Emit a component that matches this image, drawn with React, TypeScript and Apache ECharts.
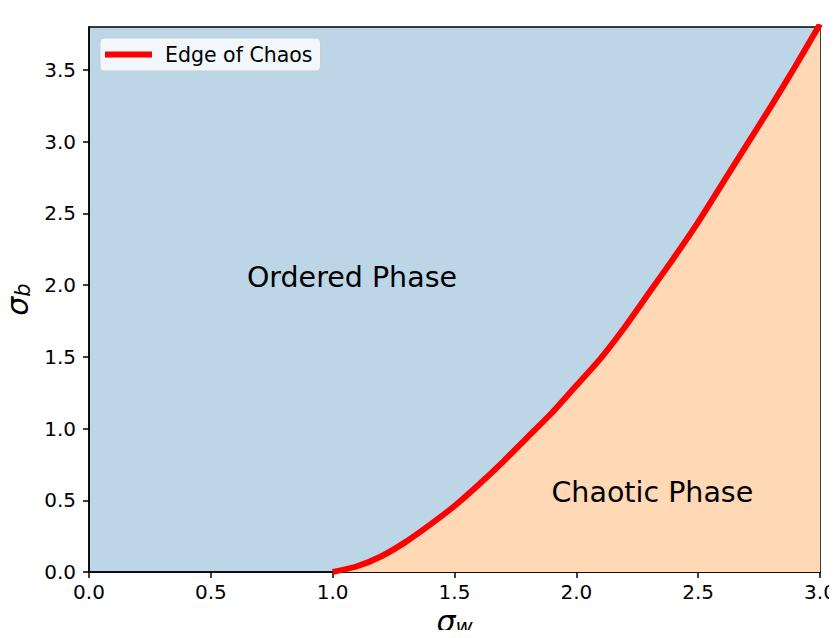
import React, { useEffect, useRef } from "react";
import * as echarts from "echarts";

const edgeX = [1.0, 1.1, 1.2, 1.3, 1.4, 1.5, 1.6, 1.7, 1.8, 1.9, 2.0, 2.1, 2.2, 2.3, 2.4, 2.5, 2.6, 2.7, 2.8, 2.9, 3.0];
const edgeY = [0, 0.04, 0.11, 0.21, 0.33, 0.46, 0.61, 0.77, 0.94, 1.11, 1.3, 1.49, 1.71, 1.95, 2.19, 2.44, 2.71, 2.98, 3.25, 3.53, 3.82];
const yTicks = [0, 0.5, 1.0, 1.5, 2.0, 2.5, 3.0, 3.5];
const phaseLabels = [
  { name: "Ordered Phase", x: 0.65, y: 2.0 },
  { name: "Chaotic Phase", x: 1.9, y: 0.5 },
];
const legendName = "Edge of Chaos";

const FONT = "DejaVu Sans";

export default function App() {
  const ref = useRef<HTMLDivElement>(null);
  useEffect(() => {
    if (!ref.current) return;
    const chart = echarts.init(ref.current, null, { renderer: "svg" });
    const pts = edgeX.map((x, i) => [x, edgeY[i]]);
    const axisCommon = {
      axisLine: { show: true, lineStyle: { color: "#000", width: 1.5 } },
      axisTick: { show: true, length: 6, lineStyle: { color: "#000", width: 1.5 } },
      splitLine: { show: false },
    };
    chart.setOption({
      animation: false,
      textStyle: { fontFamily: FONT },
      grid: {
        left: 89,
        right: 17,
        top: 27,
        bottom: 66,
        outerBoundsMode: "none",
        containLabel: false,
        show: true,
        backgroundColor: "#BCD6E8",
        borderColor: "#000",
        borderWidth: 1.5,
      },
      legend: {
        data: [{ name: legendName, icon: "rect", itemStyle: { color: "#ff0000" } }],
        left: 100,
        top: 38,
        itemWidth: 47,
        itemHeight: 6,
        padding: [6, 8, 6, 5],
        backgroundColor: "rgba(255,255,255,0.8)",
        borderColor: "#cccccc",
        borderWidth: 1,
        borderRadius: 4,
        textStyle: { fontFamily: FONT, fontSize: 20.5, color: "#000", padding: [0, 0, 0, 8] },
      },
      xAxis: {
        type: "value",
        min: 0,
        max: 3,
        interval: 0.5,
        ...axisCommon,
        axisLabel: {
          color: "#000",
          fontSize: 20,
          fontFamily: FONT,
          margin: 10,
          formatter: (v: number) => v.toFixed(1),
        },
        name: "{s|σ}{sub|w}",
        nameLocation: "middle",
        nameGap: 34,
        nameTextStyle: {
          rich: {
            s: { fontFamily: FONT, fontStyle: "italic", fontSize: 30, color: "#000" },
            sub: { fontFamily: FONT, fontStyle: "italic", fontSize: 21, color: "#000", padding: [10, 0, 0, 0] },
          },
        },
      },
      yAxis: {
        type: "value",
        min: 0,
        max: 3.8,
        interval: 0.5,
        ...axisCommon,
        axisTick: { ...axisCommon.axisTick, customValues: yTicks },
        axisLabel: {
          color: "#000",
          fontSize: 20,
          fontFamily: FONT,
          margin: 13,
          customValues: yTicks,
          formatter: (v: number) => v.toFixed(1),
        },
        name: "{s|σ}{sub|b}",
        nameLocation: "middle",
        nameGap: 56,
        nameRotate: 90,
        nameTextStyle: {
          rich: {
            s: { fontFamily: FONT, fontStyle: "italic", fontSize: 30, color: "#000" },
            sub: { fontFamily: FONT, fontStyle: "italic", fontSize: 21, color: "#000", padding: [10, 0, 0, 0] },
          },
        },
      },
      series: [
        {
          name: "chaotic",
          type: "line",
          data: pts,
          symbol: "none",
          smooth: 0.2,
          lineStyle: { width: 0 },
          areaStyle: { color: "#FFD8B6", opacity: 1 },
          clip: true,
          z: 1,
          silent: true,
        },
        {
          name: legendName,
          type: "line",
          data: pts,
          symbol: "none",
          smooth: 0.2,
          lineStyle: { width: 6, color: "#ff0000" },
          itemStyle: { color: "#ff0000" },
          clip: true,
          z: 3,
        },
        {
          name: "labels",
          type: "scatter",
          symbolSize: 1,
          itemStyle: { color: "rgba(0,0,0,0)" },
          data: phaseLabels.map((p) => ({ value: [p.x, p.y], name: p.name })),
          label: {
            show: true,
            position: [0, 0],
            align: "left",
            verticalAlign: "bottom",
            offset: [0, 7],
            fontFamily: FONT,
            fontSize: 28.5,
            color: "#000",
            opacity: 1,
            formatter: (p: any) => p.name,
          },
          z: 4,
          silent: true,
        },
      ],
    });
    return () => chart.dispose();
  }, []);
  return <div ref={ref} style={{ width: 837, height: 638, margin: -8 }} />;
}
